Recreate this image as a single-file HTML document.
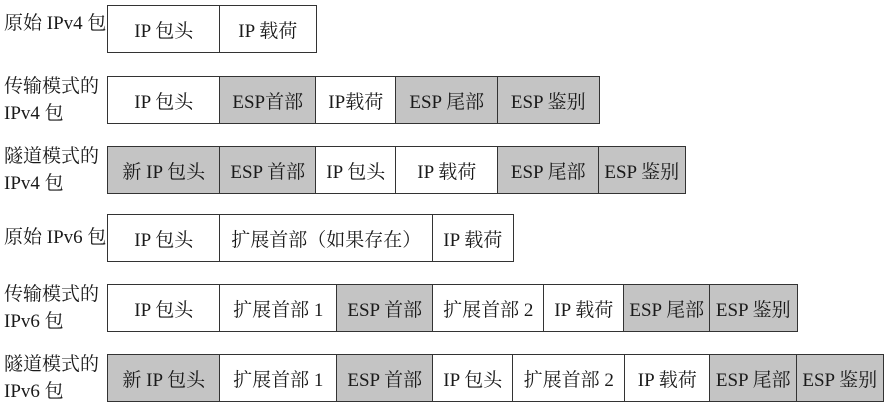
<!DOCTYPE html>
<html><head><meta charset="utf-8"><style>
body{margin:0;width:885px;height:409px;background:#fff;position:relative;overflow:hidden;font-family:"Liberation Serif","Noto Serif CJK SC",serif;color:#1a1a1a}
.c{position:absolute;box-sizing:border-box;border:1.5px solid #333;display:flex;align-items:center;justify-content:center;font-size:19px;white-space:nowrap;background:#fff}
.g{background:#c4c4c4}
.l{position:absolute;left:4px;font-size:19px;line-height:27px;white-space:nowrap}
</style></head><body>
<div class="l" style="top:10px">原始 IPv4 包</div>
<div class="l" style="top:73px">传输模式的<br>IPv4 包</div>
<div class="l" style="top:143px">隧道模式的<br>IPv4 包</div>
<div class="l" style="top:224px">原始 IPv6 包</div>
<div class="l" style="top:281px">传输模式的<br>IPv6 包</div>
<div class="l" style="top:351px">隧道模式的<br>IPv6 包</div>
<div id="rows"></div>
<script>
const rows=[
[5,[[107,"IP 包头",0],[219,"IP 载荷",0]],315],
[76,[[107,"IP 包头",0],[219,"ESP首部",1],[315,"IP载荷",0],[395,"ESP 尾部",1],[497,"ESP 鉴别",1]],598],
[146,[[107,"新 IP 包头",1],[219,"ESP 首部",1],[315,"IP 包头",0],[395,"IP 载荷",0],[497,"ESP 尾部",1],[598,"ESP 鉴别",1]],684],
[214,[[107,"IP 包头",0],[219,"扩展首部（如果存在）",0],[432,"IP 载荷",0]],512],
[284,[[107,"IP 包头",0],[219,"扩展首部 1",0],[336,"ESP 首部",1],[432,"扩展首部 2",0],[543,"IP 载荷",0],[623,"ESP 尾部",1],[709,"ESP 鉴别",1]],796],
[354,[[107,"新 IP 包头",1],[219,"扩展首部 1",0],[336,"ESP 首部",1],[432,"IP 包头",0],[512,"扩展首部 2",0],[624,"IP 载荷",0],[709,"ESP 尾部",1],[796,"ESP 鉴别",1]],882]
];
let h="";
for(const [y,cells,end] of rows){
 for(let i=0;i<cells.length;i++){
  const [x,t,g]=cells[i];const nx=i+1<cells.length?cells[i+1][0]:end;
  h+=`<div class="c${g?' g':''}" style="left:${x}px;top:${y}px;width:${nx-x+1.5}px;height:48px">${t}</div>`;
 }
}
document.getElementById("rows").outerHTML=h;
</script>
</body></html>
